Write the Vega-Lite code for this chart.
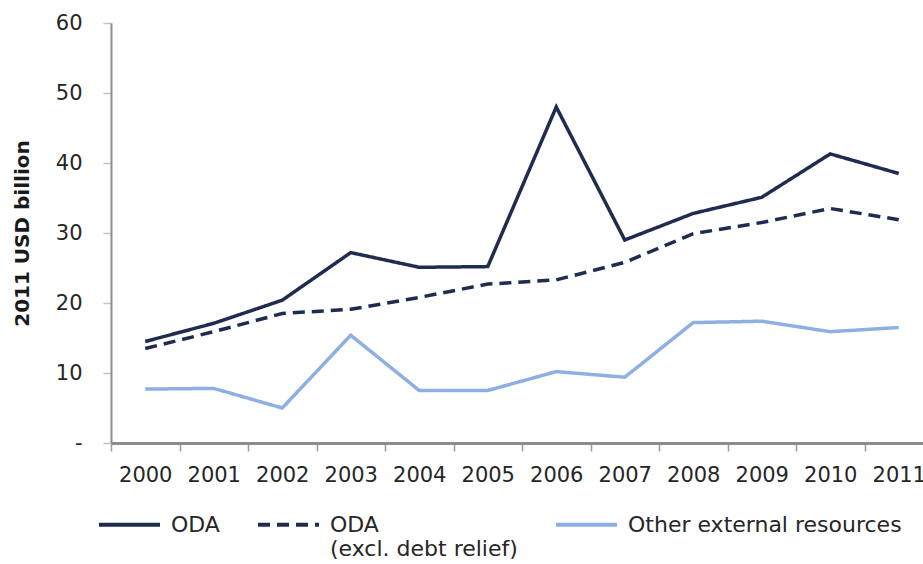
{
  "$schema": "https://vega.github.io/schema/vega-lite/v6.json",
  "width": 822,
  "height": 420,
  "autosize": {"type": "none"},
  "padding": {"left": 111, "top": 23, "right": -10, "bottom": 121},
  "background": "white",
  "config": {"view": {"stroke": null}, "font": "DejaVu Sans"},
  "data": {"values": [
    {"year": "2000", "series": "ODA", "value": 14.5},
    {"year": "2001", "series": "ODA", "value": 17.1},
    {"year": "2002", "series": "ODA", "value": 20.4},
    {"year": "2003", "series": "ODA", "value": 27.2},
    {"year": "2004", "series": "ODA", "value": 25.1},
    {"year": "2005", "series": "ODA", "value": 25.2},
    {"year": "2006", "series": "ODA", "value": 48.0},
    {"year": "2007", "series": "ODA", "value": 29.0},
    {"year": "2008", "series": "ODA", "value": 32.8},
    {"year": "2009", "series": "ODA", "value": 35.1},
    {"year": "2010", "series": "ODA", "value": 41.3},
    {"year": "2011", "series": "ODA", "value": 38.5},
    {"year": "2000", "series": "ODA (excl. debt relief)", "value": 13.5},
    {"year": "2001", "series": "ODA (excl. debt relief)", "value": 15.9},
    {"year": "2002", "series": "ODA (excl. debt relief)", "value": 18.5},
    {"year": "2003", "series": "ODA (excl. debt relief)", "value": 19.1},
    {"year": "2004", "series": "ODA (excl. debt relief)", "value": 20.8},
    {"year": "2005", "series": "ODA (excl. debt relief)", "value": 22.7},
    {"year": "2006", "series": "ODA (excl. debt relief)", "value": 23.3},
    {"year": "2007", "series": "ODA (excl. debt relief)", "value": 25.8},
    {"year": "2008", "series": "ODA (excl. debt relief)", "value": 29.9},
    {"year": "2009", "series": "ODA (excl. debt relief)", "value": 31.5},
    {"year": "2010", "series": "ODA (excl. debt relief)", "value": 33.5},
    {"year": "2011", "series": "ODA (excl. debt relief)", "value": 31.9},
    {"year": "2000", "series": "Other external resources", "value": 7.7},
    {"year": "2001", "series": "Other external resources", "value": 7.8},
    {"year": "2002", "series": "Other external resources", "value": 5.0},
    {"year": "2003", "series": "Other external resources", "value": 15.4},
    {"year": "2004", "series": "Other external resources", "value": 7.5},
    {"year": "2005", "series": "Other external resources", "value": 7.5},
    {"year": "2006", "series": "Other external resources", "value": 10.2},
    {"year": "2007", "series": "Other external resources", "value": 9.4},
    {"year": "2008", "series": "Other external resources", "value": 17.2},
    {"year": "2009", "series": "Other external resources", "value": 17.4},
    {"year": "2010", "series": "Other external resources", "value": 15.9},
    {"year": "2011", "series": "Other external resources", "value": 16.5}
  ]},
  "mark": {"type": "line", "strokeWidth": 3.5, "strokeCap": "butt", "strokeJoin": "miter"},
  "encoding": {
    "x": {
      "field": "year", "type": "ordinal",
      "scale": {"type": "band", "paddingInner": 0, "paddingOuter": 0},
      "axis": {
        "title": null, "labelAngle": 0, "labelFontSize": 21, "labelColor": "#262626",
        "labelPadding": 13, "tickBand": "extent", "tickSize": 8, "tickWidth": 1.5,
        "tickColor": "#9a9a9a", "domainColor": "#8c8c8c", "domainWidth": 3, "grid": false
      }
    },
    "y": {
      "field": "value", "type": "quantitative",
      "scale": {"domain": [0, 60], "nice": false, "zero": true},
      "axis": {
        "values": [0, 10, 20, 30, 40, 50, 60],
        "labelExpr": "datum.value == 0 ? '-\u00a0\u00a0\u00a0' : datum.label",
        "labelFontSize": 21, "labelColor": "#262626", "labelPadding": 21,
        "tickSize": 8, "tickColor": "#c4c4c4", "tickWidth": 1.5,
        "domainColor": "#8c8c8c", "domainWidth": 2, "grid": false,
        "title": "2011 USD billion", "titleFontSize": 20, "titleFontWeight": "bold",
        "titleColor": "#1a1a1a", "titleX": -89, "titleY": 210, "titleAngle": -90,
        "titleAlign": "center", "titleBaseline": "middle"
      }
    },
    "color": {
      "field": "series", "type": "nominal",
      "scale": {"domain": ["ODA", "ODA (excl. debt relief)", "Other external resources"], "range": ["#1f2c4f", "#1f2c4f", "#8eafe2"]},
      "legend": {
        "title": null, "orient": "none", "legendX": -14, "legendY": 469,
        "direction": "horizontal", "columns": 3, "columnPadding": 30,
        "symbolType": "stroke", "symbolSize": 3721, "symbolStrokeWidth": 4,
        "labelFontSize": 22, "labelOffset": 9, "labelColor": "#262626", "labelLimit": 400,
        "labelBaseline": "middle",
        "labelExpr": "datum.label == 'ODA (excl. debt relief)' ? ['ODA', '(excl. debt relief)'] : [datum.label, '\u00a0']"
      }
    },
    "strokeDash": {
      "field": "series", "type": "nominal",
      "scale": {"domain": ["ODA", "ODA (excl. debt relief)", "Other external resources"], "range": [[1, 0], [12, 7], [1, 0]]},
      "legend": {
        "title": null, "orient": "none", "legendX": -14, "legendY": 469,
        "direction": "horizontal", "columns": 3, "columnPadding": 30,
        "symbolType": "stroke", "symbolSize": 3721, "symbolStrokeWidth": 4,
        "labelFontSize": 22, "labelOffset": 9, "labelColor": "#262626", "labelLimit": 400,
        "labelBaseline": "middle",
        "labelExpr": "datum.label == 'ODA (excl. debt relief)' ? ['ODA', '(excl. debt relief)'] : [datum.label, '\u00a0']"
      }
    }
  }
}
